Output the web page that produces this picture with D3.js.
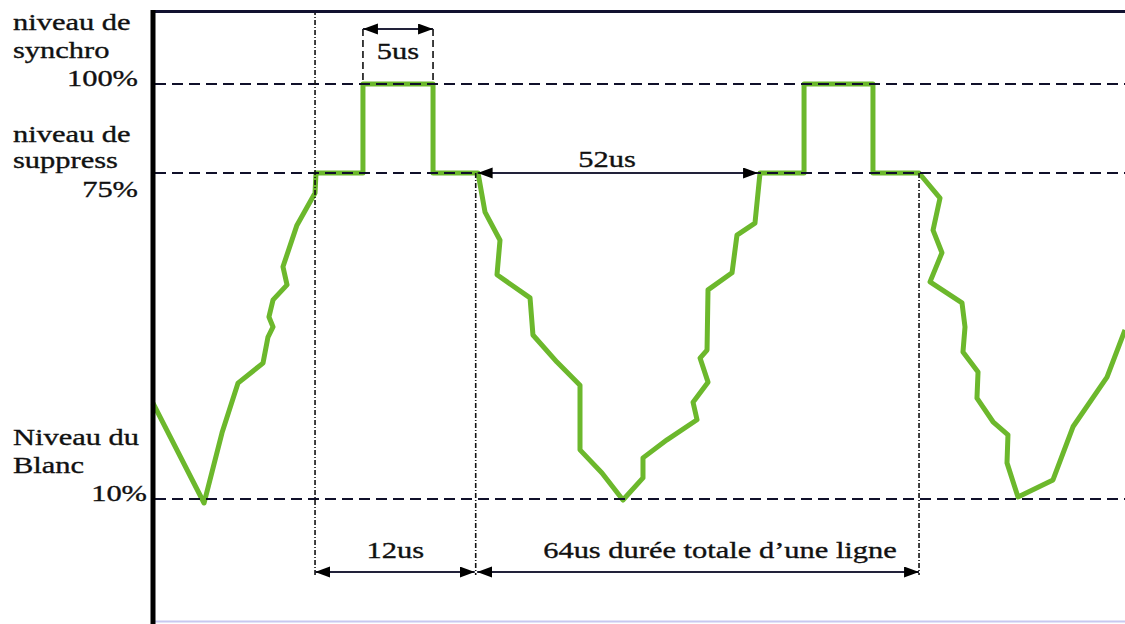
<!DOCTYPE html>
<html>
<head>
<meta charset="utf-8">
<script src="https://cdn.jsdelivr.net/npm/d3@7"></script>
<style>
  body { margin: 0; background: #fff; }
  svg { display: block; }
</style>
</head>
<body>
<div id="chart"></div>
<script>
// signal levels (%) drawn as dashed references
const levels = [100, 75, 10];

// video line signal: time (arbitrary units 0..100) and level (%)
const sigT = [0, 5.25, 7.1, 8.74, 11.32, 11.83, 12.35, 11.93, 12.35, 13.79, 13.37, 14.81, 16.67, 16.77,
  21.6, 21.6, 28.81, 28.81, 33.44,
  34.16, 35.7, 35.39, 38.79, 39.09, 41.56, 43.93, 43.93, 46.19, 48.35, 50.41, 50.41, 52.88, 55.97,
  55.56, 57.1, 56.28, 57.0, 57.1, 59.57, 60.08, 61.93, 62.45,
  66.98, 66.98, 74.07, 74.07, 78.81,
  80.97, 80.25, 81.17, 79.94, 83.23, 83.54, 83.33, 84.88, 84.77, 86.42, 87.96, 87.86, 88.99,
  92.59, 94.65, 98.15, 100];
const sigV = [29.1, 9.2, 23.2, 33.1, 37.1, 42.3, 44.3, 46.3, 49.7, 52.7, 56.3, 64.6, 71.0, 75,
  75, 100, 100, 75, 75,
  67.2, 61.6, 54.7, 50.1, 42.7, 37.3, 32.7, 19.8, 15.2, 9.8, 14.2, 18.2, 21.8, 25.8,
  29.3, 33.3, 38.1, 39.7, 51.7, 55.1, 62.6, 65.0, 75,
  75, 100, 100, 75, 75,
  70.0, 63.6, 59.1, 53.3, 49.1, 44.3, 39.3, 35.3, 30.1, 25.4, 22.8, 17.2, 10.4,
  13.8, 24.4, 34.3, 43.7];

// timing marks (same time units as the signal)
const tBlankStart = 16.67, tBlankEnd = 33.2, tSyncStart = 21.6, tSyncEnd = 28.81;
const tActiveEnd = 62.45, tLineEnd = 78.81;

const W = 1125, H = 624;
const svg = d3.select("#chart").append("svg").attr("width", W).attr("height", H);

const x = d3.scaleLinear().domain([0, 100]).range([153, 1125]);
// schematic, not proportional: piecewise scale through the three levels
const y = d3.scaleLinear().domain([10, 75, 100]).range([499, 173, 84]);

const defs = svg.append("defs");
defs.append("marker")
  .attr("id", "arr")
  .attr("markerUnits", "userSpaceOnUse")
  .attr("markerWidth", 16).attr("markerHeight", 12)
  .attr("refX", 15).attr("refY", 5.5)
  .attr("orient", "auto-start-reverse")
  .append("path")
  .attr("d", "M0,0 L15,5.5 L0,11 Z")
  .attr("fill", "#000");

// signal
const pts = sigT.map((t, i) => ({t: t, v: sigV[i]}));
svg.append("path")
  .datum(pts)
  .attr("d", d3.line().x(d => x(d.t)).y(d => y(d.v)))
  .attr("fill", "none")
  .attr("stroke", "#6cb82c")
  .attr("stroke-width", 5)
  .attr("stroke-linejoin", "round");

// dashed level lines
svg.selectAll("line.level")
  .data(levels)
  .join("line")
  .attr("class", "level")
  .attr("x1", x(0) + 2).attr("x2", W)
  .attr("y1", d => y(d)).attr("y2", d => y(d))
  .attr("stroke", "#10102a")
  .attr("stroke-width", 1.9)
  .attr("stroke-dasharray", "11,6");

// dash-dot verticals
const vlines = [
  {t: tBlankStart, top: y(100) - 74},
  {t: tBlankEnd, top: y(75)},
  {t: tLineEnd, top: y(75)}
];
const arrowY = y(10) + 73;
svg.selectAll("line.vl")
  .data(vlines)
  .join("line")
  .attr("class", "vl")
  .attr("x1", d => x(d.t)).attr("x2", d => x(d.t))
  .attr("y1", d => d.top).attr("y2", arrowY + 3)
  .attr("stroke", "#111")
  .attr("stroke-width", 1.6)
  .attr("stroke-dasharray", "5,2,1,2");

// sync pulse width marks
const syncTop = y(100) - 55;
[tSyncStart, tSyncEnd].forEach(t => {
  svg.append("line")
    .attr("x1", x(t)).attr("x2", x(t))
    .attr("y1", syncTop).attr("y2", y(100))
    .attr("stroke", "#111")
    .attr("stroke-width", 1.6)
    .attr("stroke-dasharray", "7,4");
});

function arrow(t0, t1, yy) {
  svg.append("line")
    .attr("x1", x(t0)).attr("x2", x(t1))
    .attr("y1", yy).attr("y2", yy)
    .attr("stroke", "#22223a")
    .attr("stroke-width", 1.8)
    .attr("marker-start", "url(#arr)")
    .attr("marker-end", "url(#arr)");
}
arrow(tSyncStart, tSyncEnd, syncTop);
arrow(tBlankEnd + 0.2, tActiveEnd - 0.2, y(75));
arrow(tBlankStart, tBlankEnd - 0.1, arrowY);
arrow(tBlankEnd + 0.15, tLineEnd, arrowY);

// frame
svg.append("line").attr("x1", 151).attr("x2", W).attr("y1", 11.5).attr("y2", 11.5)
  .attr("stroke", "#121230").attr("stroke-width", 3);
svg.append("line").attr("x1", 153).attr("x2", W).attr("y1", 621.5).attr("y2", 621.5)
  .attr("stroke", "#c8c8f0").attr("stroke-width", 2);
svg.append("line").attr("x1", x(0)).attr("x2", x(0)).attr("y1", 10).attr("y2", H)
  .attr("stroke", "#000").attr("stroke-width", 5);

// text (glyphs are stretched horizontally in the reference)
function label(txt, px, py, anchor) {
  svg.append("text")
    .attr("transform", `translate(${px},${py}) scale(1.27,1)`)
    .attr("text-anchor", anchor || "start")
    .attr("font-family", "'Liberation Serif', 'Times New Roman', serif")
    .attr("font-size", 24)
    .attr("fill", "#111")
    .attr("stroke", "#111")
    .attr("stroke-width", 0.35)
    .text(txt);
}
label("niveau de", 13, 30);
label("synchro", 13, 58);
label("100%", 138, 86, "end");
label("niveau de", 13, 142);
label("suppress", 13, 168);
label("75%", 138, 197, "end");
label("Niveau du", 13, 445);
label("Blanc", 13, 473);
label("10%", 147, 501, "end");

label("5us", (x(tSyncStart) + x(tSyncEnd)) / 2, syncTop + 30, "middle");
label("52us", 607, y(75) - 6, "middle");
label("12us", (x(tBlankStart) + x(tBlankEnd)) / 2, arrowY - 14, "middle");
label("64us durée totale d\u2019une ligne", 720, arrowY - 14, "middle");
</script>
</body>
</html>
